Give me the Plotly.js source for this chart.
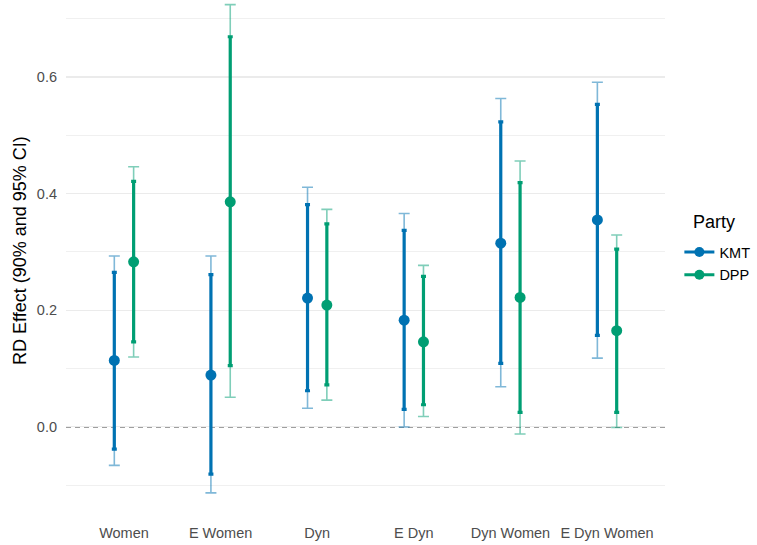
<!DOCTYPE html>
<html>
<head>
<meta charset="utf-8">
<script src="https://cdn.plot.ly/plotly-3.0.1.min.js"></script>
<style>html,body{margin:0;padding:0;background:#fff;}#chart{width:757px;height:545px;}</style>
</head>
<body>
<div id="chart"></div>
<script>
// Data
const categories = ["Women", "E Women", "Dyn", "E Dyn", "Dyn Women", "E Dyn Women"];
const parties = ["KMT", "DPP"];

const kmtEst   = [0.114, 0.089, 0.221, 0.183, 0.315, 0.355];
const kmtLo90  = [-0.038, -0.081, 0.062, 0.030, 0.109, 0.157];
const kmtHi90  = [0.265, 0.261, 0.381, 0.337, 0.523, 0.553];
const kmtLo95  = [-0.066, -0.113, 0.032, 0.000, 0.069, 0.118];
const kmtHi95  = [0.293, 0.293, 0.411, 0.366, 0.563, 0.591];

const dppEst   = [0.283, 0.386, 0.209, 0.146, 0.222, 0.165];
const dppLo90  = [0.146, 0.105, 0.072, 0.038, 0.025, 0.025];
const dppHi90  = [0.421, 0.669, 0.348, 0.258, 0.419, 0.305];
const dppLo95  = [0.120, 0.051, 0.046, 0.018, -0.012, -0.001];
const dppHi95  = [0.446, 0.724, 0.373, 0.277, 0.456, 0.329];

const yTickVals = [0, 0.2, 0.4, 0.6];
const yTickText = ["0.0", "0.2", "0.4", "0.6"];

const colors = {KMT: "#0072B2", DPP: "#009E73"};
const colorsFaint = {KMT: "rgba(0,114,178,0.5)", DPP: "rgba(0,158,115,0.5)"};
const dodge = {KMT: -0.1, DPP: 0.1};

const series = {
  KMT: {est: kmtEst, lo90: kmtLo90, hi90: kmtHi90, lo95: kmtLo95, hi95: kmtHi95},
  DPP: {est: dppEst, lo90: dppLo90, hi90: dppHi90, lo95: dppLo95, hi95: dppHi95}
};

const traces = [];
parties.forEach(p => {
  const s = series[p];
  const xs = categories.map((c, i) => i + dodge[p]);
  traces.push({
    type: "scatter", mode: "markers", x: xs, y: s.est, showlegend: false,
    marker: {color: "rgba(0,0,0,0)", size: 1},
    error_y: {type: "data", symmetric: false,
      array: s.hi95.map((v, i) => v - s.est[i]),
      arrayminus: s.est.map((v, i) => v - s.lo95[i]),
      color: colorsFaint[p], thickness: 1.6, width: 5.5}
  });
});
parties.forEach(p => {
  const s = series[p];
  const xs = categories.map((c, i) => i + dodge[p]);
  traces.push({
    type: "scatter", mode: "markers", x: xs, y: s.est, showlegend: false,
    marker: {color: colors[p], size: 11},
    error_y: {type: "data", symmetric: false,
      array: s.hi90.map((v, i) => v - s.est[i]),
      arrayminus: s.est.map((v, i) => v - s.lo90[i]),
      color: colors[p], thickness: 3.2, width: 2.5}
  });
});
// legend entries (line + point key, as in the original)
parties.forEach(p => {
  traces.push({
    type: "scatter", mode: "lines+markers", x: [null], y: [null], name: p,
    legendgroup: p,
    line: {color: colors[p], width: 3}, marker: {color: colors[p], size: 10},
    showlegend: true
  });
});

const layout = {
  width: 757, height: 545,
  margin: {l: 66, r: 92, t: 0, b: 30, autoexpand: false},
  paper_bgcolor: "#fff", plot_bgcolor: "#fff",
  font: {family: "Liberation Sans, Arial, sans-serif", color: "#000"},
  hovermode: false,
  showlegend: true,
  xaxis: {
    range: [-0.6, 5.6], tickmode: "array",
    tickvals: categories.map((c, i) => i), ticktext: categories,
    showgrid: false, zeroline: false, showline: false, ticks: "",
    tickfont: {size: 14.5, color: "#4D4D4D"}, ticklabelstandoff: 7
  },
  yaxis: {
    range: [-0.151, 0.732], tickmode: "array",
    tickvals: yTickVals, ticktext: yTickText,
    showgrid: true, gridcolor: "#EBEBEB", gridwidth: 1.1,
    minor: {tickvals: [-0.1, 0.1, 0.3, 0.5, 0.7], showgrid: true, gridcolor: "#F0F0F0", gridwidth: 1},
    zeroline: false, showline: false, ticks: "",
    tickfont: {size: 14.5, color: "#4D4D4D"}, ticklabelstandoff: 8
  },
  annotations: [{
    text: "RD Effect (90% and 95% CI)", textangle: -90,
    xref: "paper", x: -0.0768, xanchor: "center",
    yref: "paper", y: 0.5146, yanchor: "middle",
    showarrow: false, font: {size: 18, color: "#000"}
  }, {
    text: "Party",
    xref: "paper", x: (691 - 66) / 599, xanchor: "left",
    yref: "paper", y: 1 - 222 / 515, yanchor: "middle",
    showarrow: false, font: {size: 18, color: "#000"}
  }],
  shapes: [{
    type: "line", xref: "paper", x0: 0, x1: 1, yref: "y", y0: 0, y1: 0,
    line: {color: "#808080", width: 1.5, dash: "5px,4px"}, layer: "below"
  }],
  legend: {
    x: 1.024, xanchor: "left", y: 1 - 236 / 515, yanchor: "top",
    font: {size: 14.5, color: "#000"}, itemwidth: 30,
    traceorder: "grouped", tracegroupgap: 1,
    bgcolor: "rgba(0,0,0,0)"
  }
};

Plotly.newPlot("chart", traces, layout, {displayModeBar: false, staticPlot: true});
</script>
</body>
</html>
